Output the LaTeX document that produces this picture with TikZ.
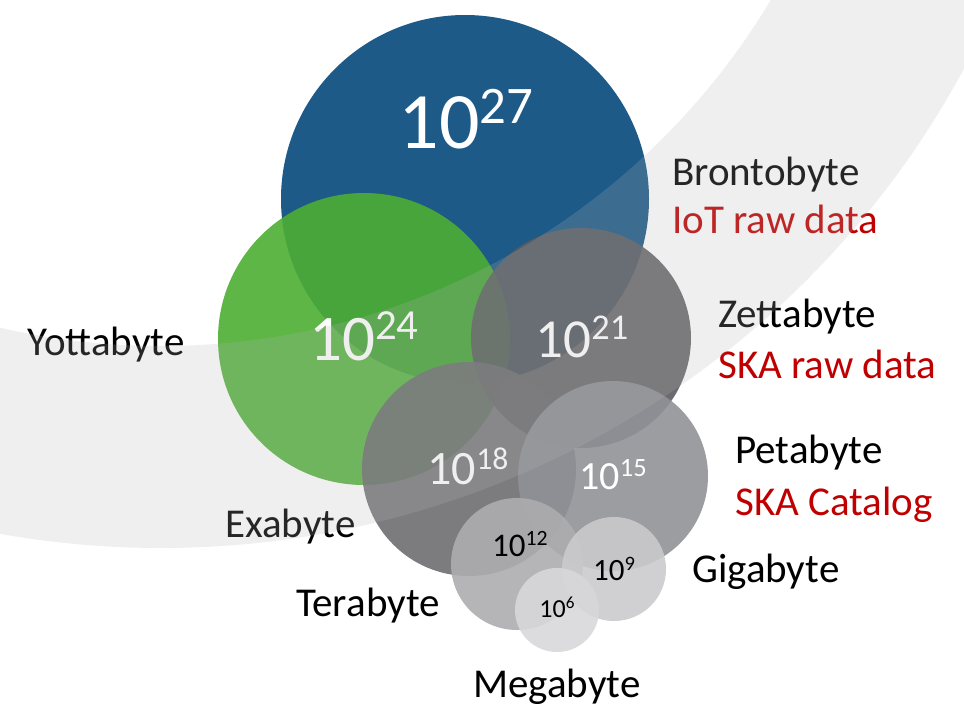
\documentclass[tikz,border=0pt]{standalone}
\usepackage{fontspec}
\setmainfont{Carlito}
\usepackage{xcolor}
\usepackage{tikz}
\definecolor{darkblue}{RGB}{29,90,136}
\definecolor{leafgreen}{RGB}{76,174,51}
\definecolor{gray21}{RGB}{92,92,96}
\definecolor{gray18}{RGB}{110,110,113}
\definecolor{gray15}{RGB}{145,146,151}
\definecolor{gray12}{RGB}{173,173,175}
\definecolor{gray9}{RGB}{203,203,205}
\definecolor{gray6}{RGB}{216,216,218}
\definecolor{bandgray}{RGB}{180,180,180}
\definecolor{labelred}{RGB}{192,0,0}
\newcommand{\pw}[2]{\fontsize{#1}{#1}\selectfont 10\raisebox{.31em}{\scalebox{.66}{#2}}}

\begin{document}
\begin{tikzpicture}[x=1pt,y=-1pt,
  bubble/.style={circle,inner sep=0pt,fill opacity=0.9},
  num/.style={inner sep=0pt,anchor=base,text=white},
  lbl/.style={inner sep=0pt,anchor=base west,font=\fontsize{41}{41}\selectfont}]
\useasboundingbox(0,0)rectangle(964,704);
% bubbles, largest first
\node[bubble,fill=darkblue,fill opacity=1,minimum size=368pt](c27)at(465,199){};
\node[bubble,fill=leafgreen,minimum size=292pt](c24)at(364,339){};
\node[bubble,fill=gray21,minimum size=220pt](c21)at(581,338){};
\node[bubble,fill=gray18,minimum size=214pt](c18)at(469,469){};
\node[bubble,fill=gray15,minimum size=190pt](c15)at(613,476){};
\node[bubble,fill=gray12,minimum size=132pt](c12)at(517,564){};
\node[bubble,fill=gray9,minimum size=104pt](c9)at(614,569){};
\node[bubble,fill=gray6,minimum size=84pt](c6)at(557,610){};
% powers of ten
\node[num](n27)at(466,148){\pw{80}{27}};
\node[num](n24)at(364,360){\pw{65}{24}};
\node[num](n21)at(582,357){\pw{55}{21}};
\node[num](n18)at(468,484){\pw{48}{18}};
\node[num](n15)at(613,489){\pw{40}{15}};
\node[num,text=black](n12)at(520,556){\pw{33}{12}};
\node[num,text=black](n9)at(614,580){\pw{31}{9}};
\node[num,text=black](n6)at(557,617){\pw{26}{6}};
% names and uses
\node[lbl](bronto)at(672,185){Brontobyte};
\node[lbl,text=labelred](iot)at(672,233){IoT raw data};
\node[lbl](yotta)at(27,355){Yottabyte};
\node[lbl](zetta)at(718,327){Zettabyte};
\node[lbl,text=labelred](skaraw)at(718,378){SKA raw data};
\node[lbl](peta)at(735,463){Petabyte};
\node[lbl,text=labelred](skacat)at(735,515){SKA Catalog};
\node[lbl](exa)at(225,537){Exabyte};
\node[lbl](giga)at(692,582){Gigabyte};
\node[lbl](tera)at(296,616){Terabyte};
\node[lbl](mega)at(473,697){Megabyte};
% light band over everything
\begin{scope}
\clip(0,0)rectangle(964,704);
\fill[bandgray,fill opacity=0.21,even odd rule](161,-364)circle[radius=912](161,-364)circle[radius=710];
\end{scope}
\end{tikzpicture}
\end{document}
